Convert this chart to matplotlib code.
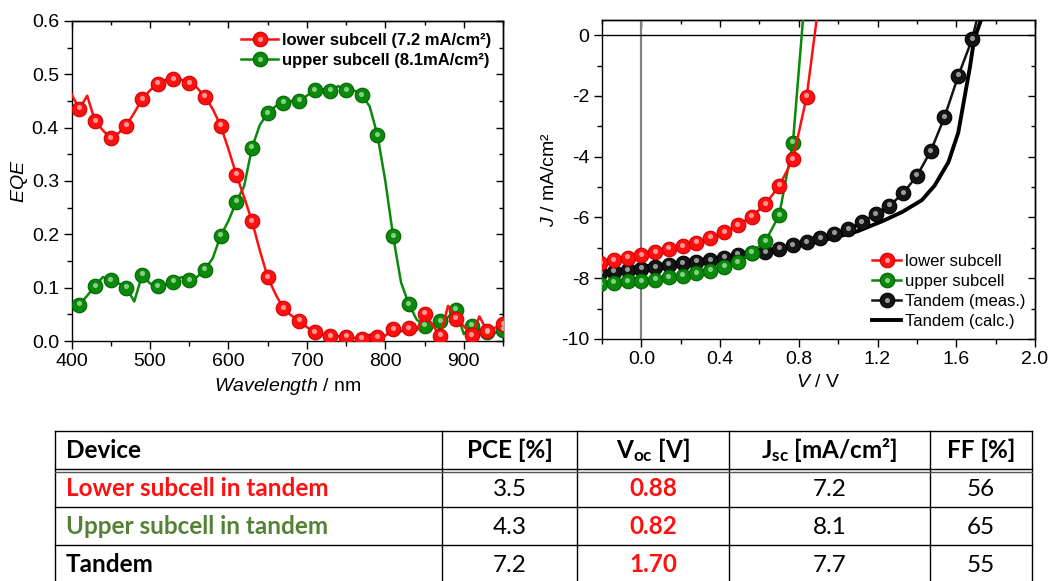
"""EQE + J-V of a tandem cell, with the summary table underneath (Origin-ish look)."""
import matplotlib.pyplot as plt
import matplotlib.transforms as mtransforms
from matplotlib.legend_handler import HandlerTuple
from matplotlib.ticker import MultipleLocator, FormatStrFormatter

# --- palette -------------------------------------------------------------
RED = "#FF1010"
RED_EDGE = "#D00000"
GREEN = "#0A8A0A"
GREEN_EDGE = "#006400"
BLACK = "#141414"
GREY_V0 = "#808080"
TAB_GREEN = "#548235"

# --- EQE data (every 10 nm, markers on every other point) ---------------
wavelength = list(range(400, 951, 10))
eqe_lower = [0.463, 0.435, 0.460, 0.412, 0.395, 0.380, 0.390, 0.404, 0.428, 0.453,
             0.470, 0.482, 0.490, 0.491, 0.490, 0.483, 0.475, 0.458, 0.435, 0.404,
             0.360, 0.312, 0.270, 0.225, 0.170, 0.120, 0.088, 0.061, 0.048, 0.038,
             0.026, 0.016, 0.011, 0.009, 0.009, 0.008, 0.006, 0.004, 0.012, 0.007,
             0.010, 0.022, 0.018, 0.024, 0.020, 0.051, 0.030, 0.010, 0.066, 0.042,
             0.028, 0.011, 0.046, 0.018, 0.025, 0.031]
eqe_upper = [0.065, 0.068, 0.085, 0.103, 0.120, 0.114, 0.108, 0.100, 0.074, 0.124,
             0.108, 0.103, 0.105, 0.111, 0.120, 0.114, 0.120, 0.134, 0.155, 0.197,
             0.225, 0.261, 0.290, 0.362, 0.405, 0.427, 0.440, 0.447, 0.450, 0.450,
             0.460, 0.470, 0.472, 0.469, 0.478, 0.470, 0.470, 0.461, 0.440, 0.386,
             0.300, 0.196, 0.110, 0.069, 0.040, 0.029, 0.030, 0.037, 0.045, 0.059,
             0.013, 0.029, 0.020, 0.016, 0.015, 0.021]

# --- J-V data ------------------------------------------------------------
v_lower = [-0.21, -0.14, -0.07, 0.0, 0.07, 0.14, 0.21, 0.28, 0.35, 0.42, 0.49, 0.56,
           0.63, 0.70, 0.77, 0.84, 0.91]
j_lower = [-7.50, -7.40, -7.32, -7.24, -7.15, -7.03, -6.95, -6.83, -6.67, -6.48, -6.25,
           -5.97, -5.56, -4.96, -4.09, -2.02, 1.5]
v_upper = [-0.21, -0.14, -0.07, 0.0, 0.07, 0.14, 0.21, 0.28, 0.35, 0.42, 0.49, 0.56,
           0.63, 0.70, 0.77, 0.84]
j_upper = [-8.20, -8.15, -8.10, -8.10, -8.05, -7.96, -7.91, -7.83, -7.76, -7.62, -7.47,
           -7.16, -6.78, -5.93, -3.54, 2.0]
v_meas = [-0.21, -0.14, -0.07, 0.0, 0.07, 0.14, 0.21, 0.28, 0.35, 0.42, 0.49, 0.56,
          0.63, 0.70, 0.77, 0.84, 0.91, 0.98, 1.05, 1.12, 1.19, 1.26, 1.33, 1.40,
          1.47, 1.54, 1.61, 1.68, 1.75]
j_meas = [-7.83, -7.78, -7.73, -7.68, -7.64, -7.56, -7.51, -7.45, -7.40, -7.33, -7.23,
          -7.18, -7.14, -7.03, -6.92, -6.81, -6.68, -6.54, -6.39, -6.15, -5.89, -5.62,
          -5.20, -4.63, -3.82, -2.70, -1.34, -0.14, 1.70]
v_calc = [-0.2, 0.0, 0.2, 0.4, 0.6, 0.8, 0.9, 1.0, 1.1, 1.225, 1.325, 1.425, 1.49,
          1.56, 1.61, 1.64, 1.67, 1.69, 1.725, 1.76]
j_calc = [-7.80, -7.62, -7.48, -7.32, -7.12, -6.92, -6.78, -6.63, -6.45, -6.12, -5.82,
          -5.43, -4.95, -4.18, -3.21, -2.12, -1.03, -0.16, 0.49, 1.2]

# --- table ---------------------------------------------------------------
col_header = ["Device", "PCE [%]", r"$\mathbf{V_{oc}}$ [V]", r"$\mathbf{J_{sc}}$ [mA/cm²]", "FF [%]"]
devices = ["Lower subcell in tandem", "Upper subcell in tandem", "Tandem"]
pce = ["3.5", "4.3", "7.2"]
voc = ["0.88", "0.82", "1.70"]
jsc = ["7.2", "8.1", "7.7"]
ff = ["56", "65", "55"]
device_colors = [RED, TAB_GREEN, "black"]

W, H = 1051, 581

plt.rcParams.update({
    "font.family": ["Liberation Sans", "DejaVu Sans"],
    "font.size": 14,
    "mathtext.fontset": "custom",
    "mathtext.rm": "Liberation Sans",
    "mathtext.it": "Liberation Sans:italic",
    "mathtext.bf": "Lato:bold",
    "axes.unicode_minus": False,
    "axes.linewidth": 1.0,
    "legend.frameon": False,
})


def shiny(ax, x, y, color, edge, hi, ms=10.5, lw=1.8, markevery=None, zorder=3):
    """Line with ball markers plus a small offset highlight, Origin style."""
    line, = ax.plot(x, y, "-o", color=color, mfc=color, mec=edge, mew=0.8, ms=ms, lw=lw,
                    markevery=markevery, zorder=zorder)
    tr = mtransforms.offset_copy(ax.transData, fig=ax.figure, x=-0.5, y=1.5, units="dots")
    hl, = ax.plot(x, y, "o", ls="none", ms=ms * 0.35, mfc=hi, mec="none", alpha=0.85,
                  transform=tr, markevery=markevery, zorder=zorder + 0.1)
    return line, hl


def origin_ticks(ax, xmaj, xmin, ymaj, ymin):
    ax.xaxis.set_major_locator(MultipleLocator(xmaj))
    ax.xaxis.set_minor_locator(MultipleLocator(xmin))
    ax.yaxis.set_major_locator(MultipleLocator(ymaj))
    ax.yaxis.set_minor_locator(MultipleLocator(ymin))
    ax.tick_params(which="both", direction="out", width=1, labelsize=14, pad=3)
    ax.tick_params(which="major", length=6)
    ax.tick_params(which="minor", length=3.5)
    top = ax.secondary_xaxis("top")
    top.xaxis.set_major_locator(MultipleLocator(xmaj))
    top.xaxis.set_minor_locator(MultipleLocator(xmin))
    top.tick_params(which="both", direction="in", width=1, labeltop=False)
    top.tick_params(which="major", length=5)
    top.tick_params(which="minor", length=3)
    right = ax.secondary_yaxis("right")
    right.yaxis.set_major_locator(MultipleLocator(ymaj))
    right.yaxis.set_minor_locator(MultipleLocator(ymin))
    right.tick_params(which="both", direction="in", width=1, labelright=False)
    right.tick_params(which="major", length=5)
    right.tick_params(which="minor", length=3)


fig = plt.figure(figsize=(W / 100, H / 100), dpi=100)

# --- EQE panel -----------------------------------------------------------
ax1 = fig.add_axes([71.5 / W, 1 - 341 / H, 431.5 / W, 320 / H])
every = slice(1, None, 2)
g1 = shiny(ax1, wavelength, eqe_upper, GREEN, GREEN_EDGE, "#9FD89F", markevery=every)
r1 = shiny(ax1, wavelength, eqe_lower, RED, RED_EDGE, "#FFB0B0", markevery=every)
ax1.set_xlim(400, 950)
ax1.set_ylim(0, 0.6)
origin_ticks(ax1, 100, 50, 0.1, 0.05)
ax1.yaxis.set_major_formatter(FormatStrFormatter("%.1f"))
ax1.set_ylabel(r"$\mathit{EQE}$", fontsize=14, labelpad=1)
ax1.set_xlabel(r"$\mathit{Wavelength}$ / nm", fontsize=14, labelpad=4)
ax1.legend([r1, g1], ["lower subcell (7.2 mA/cm²)", "upper subcell (8.1mA/cm²)"],
           handler_map={tuple: HandlerTuple(ndivide=1)}, loc="upper right",
           bbox_to_anchor=(1.0, 1.0), borderaxespad=0.3, handlelength=2.2,
           handletextpad=0.25, labelspacing=0.3, prop={"size": 12, "weight": "bold"})

# --- J-V panel -----------------------------------------------------------
ax2 = fig.add_axes([602 / W, 1 - 339 / H, 433 / W, 319 / H])
ax2.axvline(0, color=GREY_V0, lw=1.6, zorder=1)
ax2.axhline(0, color="black", lw=1.0, zorder=1)
l_calc, = ax2.plot(v_calc, j_calc, color="black", lw=2.8, zorder=2)
k2 = shiny(ax2, v_meas, j_meas, BLACK, "#000000", "#B0B0B0", lw=1.8, zorder=3)
g2 = shiny(ax2, v_upper, j_upper, GREEN, GREEN_EDGE, "#9FD89F", zorder=4)
r2 = shiny(ax2, v_lower, j_lower, RED, RED_EDGE, "#FFB0B0", zorder=5)
ax2.set_xlim(-0.2, 2.0)
ax2.set_ylim(-10, 0.5)
origin_ticks(ax2, 0.4, 0.2, 2, 1)
ax2.xaxis.set_major_formatter(FormatStrFormatter("%.1f"))
ax2.yaxis.set_major_formatter(FormatStrFormatter("%d"))
ax2.set_xlabel(r"$\mathit{V}$ / V", fontsize=14, labelpad=4)
ax2.set_ylabel(r"$\mathit{J}$ / mA/cm²", fontsize=14, labelpad=2)
ax2.legend([r2, g2, k2, l_calc],
           ["lower subcell", "upper subcell", "Tandem (meas.)", "Tandem (calc.)"],
           handler_map={tuple: HandlerTuple(ndivide=1)}, loc="lower right",
           bbox_to_anchor=(1.0, 0.0), borderaxespad=0.2, handlelength=1.75,
           handletextpad=0.2, labelspacing=0.3, prop={"size": 12})

# --- table ---------------------------------------------------------------
tab = fig.add_axes([0, 0, 1, 1], zorder=-1)
tab.set_xlim(0, W)
tab.set_ylim(H, 0)
tab.set_axis_off()

col_edges = [55, 442, 577, 729, 930, 1032]
row_edges = [431, 469, 507, 545, 583]
for xe in col_edges:
    tab.plot([xe, xe], [row_edges[0], row_edges[-1]], color="black", lw=1.0)
for ye in row_edges:
    tab.plot([col_edges[0], col_edges[-1]], [ye, ye], color="black", lw=1.0)
tab.plot([col_edges[0], col_edges[-1]], [row_edges[1] + 2.5] * 2, color="#555555", lw=1.0)

tfont = ["Lato", "DejaVu Sans"]
fs = 17.5
centers = [(a + b) / 2 for a, b in zip(col_edges[:-1], col_edges[1:])]
yh = (row_edges[0] + row_edges[1]) / 2
tab.text(col_edges[0] + 11, yh, col_header[0], ha="left", va="center", fontsize=fs,
         fontweight="bold", family=tfont)
for c, label in zip(centers[1:], col_header[1:]):
    tab.text(c, yh, label, ha="center", va="center", fontsize=fs, fontweight="bold",
             family=tfont)

for i, dev in enumerate(devices):
    yc = (row_edges[i + 1] + row_edges[i + 2]) / 2 + 1
    tab.text(col_edges[0] + 11, yc, dev, ha="left", va="center", fontsize=fs,
             fontweight="bold", color=device_colors[i], family=tfont)
    tab.text(centers[1], yc, pce[i], ha="center", va="center", fontsize=fs, family=tfont)
    tab.text(centers[2], yc, voc[i], ha="center", va="center", fontsize=fs,
             fontweight="bold", color=RED, family=tfont)
    tab.text(centers[3], yc, jsc[i], ha="center", va="center", fontsize=fs, family=tfont)
    tab.text(centers[4], yc, ff[i], ha="center", va="center", fontsize=fs, family=tfont)

fig.savefig("out.png", dpi=100)
